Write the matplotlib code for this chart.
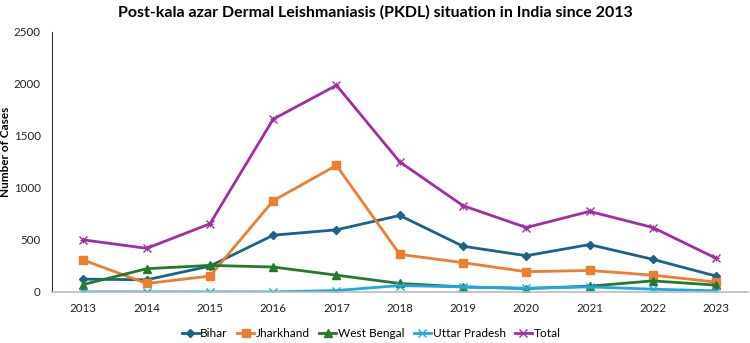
import matplotlib.pyplot as plt
import numpy as np

years = ['2013', '2014', '2015', '2016', '2017', '2018', '2019', '2020', '2021', '2022', '2023']
bihar = [123, 116, 248, 545, 597, 735, 439, 348, 455, 313, 152]
jharkhand = [306, 81, 152, 877, 1216, 361, 281, 194, 206, 161, 94]
west_bengal = [71, 223, 255, 239, 161, 81, 48, 32, 55, 106, 65]
uttar_pradesh = [0, 0, 0, 0, 13, 61, 48, 35, 48, 26, 10]
total = [500, 419, 655, 1661, 1987, 1250, 829, 619, 774, 619, 323]

plt.rcParams['font.family'] = ['Lato', 'DejaVu Sans']

fig = plt.figure(figsize=(7.5, 3.43), dpi=100)
ax = fig.add_axes([0.069, 0.149, 0.928, 0.758])

x = np.arange(len(years))
ax.plot(x, bihar, '-D', color='#1C6189', lw=2, ms=4, label='Bihar')
ax.plot(x, jharkhand, '-s', color='#ED7D31', lw=2, ms=6, label='Jharkhand')
ax.plot(x, west_bengal, '-^', color='#247A2A', lw=2, ms=6, label='West Bengal')
ax.plot(x, uttar_pradesh, '-x', color='#1FA8E0', lw=2, ms=6, mew=1, label='Uttar Pradesh')
ax.plot(x, total, '-x', color='#9E2FA0', lw=2, ms=6, mew=1, label='Total')
ax.plot(x, total, '+', color='#9E2FA0', ms=5, mew=0.8)

ax.set_xlim(-0.5, 10.5)
ax.set_ylim(0, 2500)
ax.set_yticks(range(0, 2501, 500))
ax.set_xticks(x)
ax.set_xticklabels(years)
ax.tick_params(length=0, labelsize=8.3, colors='#222222')
ax.tick_params(axis='x', pad=8)
ax.tick_params(axis='y', pad=8)
for s in ['top', 'right']:
    ax.spines[s].set_visible(False)
ax.spines['left'].set_color('#333333')
ax.spines['bottom'].set_color('#BBBBBB')
ax.spines['bottom'].set_linewidth(1.2)

fig.text(0.008, 0.557, 'Number of Cases', rotation=90, ha='center', va='center',
         fontsize=8.5, fontweight='bold')
fig.text(0.5, 0.965, 'Post-kala azar Dermal Leishmaniasis (PKDL) situation in India since 2013',
         ha='center', va='center', fontsize=11.5, fontweight='bold')

fig.legend(loc='center', bbox_to_anchor=(0.495, 0.027), ncol=5, frameon=False,
           fontsize=8.6, handlelength=1.4, handletextpad=0.15, columnspacing=0.8)

fig.savefig('out.png', dpi=100)
